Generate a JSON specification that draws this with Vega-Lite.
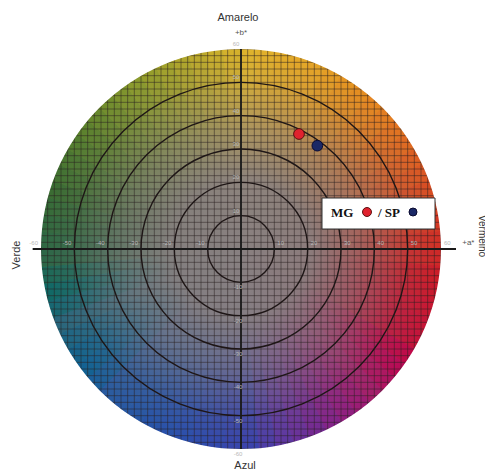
{
  "$schema": "https://vega.github.io/schema/vega-lite/v6.json",
  "width": 485,
  "height": 470,
  "padding": 0,
  "autosize": "none",
  "background": "white",
  "config": {"view": {"stroke": null}, "font": "Liberation Sans"},
  "datasets": {
    "hue": [{"h":0},{"h":5},{"h":10},{"h":15},{"h":20},{"h":25},{"h":30},{"h":35},{"h":40},{"h":45},{"h":50},{"h":55},{"h":60},{"h":65},{"h":70},{"h":75},{"h":80},{"h":85},{"h":90},{"h":95},{"h":100},{"h":105},{"h":110},{"h":115},{"h":120},{"h":125},{"h":130},{"h":135},{"h":140},{"h":145},{"h":150},{"h":155},{"h":160},{"h":165},{"h":170},{"h":175},{"h":180},{"h":185},{"h":190},{"h":195},{"h":200},{"h":205},{"h":210},{"h":215},{"h":220},{"h":225},{"h":230},{"h":235},{"h":240},{"h":245},{"h":250},{"h":255},{"h":260},{"h":265},{"h":270},{"h":275},{"h":280},{"h":285},{"h":290},{"h":295},{"h":300},{"h":305},{"h":310},{"h":315},{"h":320},{"h":325},{"h":330},{"h":335},{"h":340},{"h":345},{"h":350},{"h":355}],
    "grid": [{"g":-60},{"g":-58},{"g":-56},{"g":-54},{"g":-52},{"g":-50},{"g":-48},{"g":-46},{"g":-44},{"g":-42},{"g":-40},{"g":-38},{"g":-36},{"g":-34},{"g":-32},{"g":-30},{"g":-28},{"g":-26},{"g":-24},{"g":-22},{"g":-20},{"g":-18},{"g":-16},{"g":-14},{"g":-12},{"g":-10},{"g":-8},{"g":-6},{"g":-4},{"g":-2},{"g":0},{"g":2},{"g":4},{"g":6},{"g":8},{"g":10},{"g":12},{"g":14},{"g":16},{"g":18},{"g":20},{"g":22},{"g":24},{"g":26},{"g":28},{"g":30},{"g":32},{"g":34},{"g":36},{"g":38},{"g":40},{"g":42},{"g":44},{"g":46},{"g":48},{"g":50},{"g":52},{"g":54},{"g":56},{"g":58},{"g":60}],
    "rings": [{"r":10},{"r":20},{"r":30},{"r":40},{"r":50}],
    "one": [{"k":1}],
    "samples": [{"s":"MG","a":17.4,"b":34.5},{"s":"SP","a":22.9,"b":31.0}],
    "ticks": [{"v":-60},{"v":-50},{"v":-40},{"v":-30},{"v":-20},{"v":-10},{"v":10},{"v":20},{"v":30},{"v":40},{"v":50},{"v":60}]
  },
  "resolve": {"scale": {"color": "independent", "stroke": "independent", "fill": "independent", "size": "independent"}},
  "layer": [
    {
      "data": {"name": "hue"},
      "mark": {"type": "arc", "outerRadius": 200, "strokeWidth": 1},
      "encoding": {
        "x": {"datum": 0, "type": "quantitative", "scale": {"domain": [-72.3, 73.2], "nice": false, "zero": false}, "axis": null},
        "y": {"datum": 0, "type": "quantitative", "scale": {"domain": [-66.3, 74.7], "nice": false, "zero": false}, "axis": null},
        "theta": {"aggregate": "count", "type": "quantitative", "stack": true},
        "order": {"field": "h", "type": "quantitative"},
        "color": {"field": "h", "type": "quantitative", "legend": null,
          "scale": {"domain": [0,20,40,60,80,95,115,135,155,175,195,220,245,265,285,305,325,345,360],
                    "range": ["#e0b42c","#e6a426","#e68620","#de6022","#d43824","#cc1c28","#c4123a","#a41c6a","#742892","#3a42ac","#2a4eac","#285aa0","#28667c","#2c6646","#3a6c32","#5c822c","#8a9a2c","#bcaa2c","#e0b42c"]}},
        "stroke": {"field": "h", "type": "quantitative", "legend": null,
          "scale": {"domain": [0,20,40,60,80,95,115,135,155,175,195,220,245,265,285,305,325,345,360],
                    "range": ["#e0b42c","#e6a426","#e68620","#de6022","#d43824","#cc1c28","#c4123a","#a41c6a","#742892","#3a42ac","#2a4eac","#285aa0","#28667c","#2c6646","#3a6c32","#5c822c","#8a9a2c","#bcaa2c","#e0b42c"]}}
      }
    },
    {
      "data": {"name": "one"},
      "mark": {"type": "point", "shape": "circle", "filled": true, "size": 160000, "opacity": 1, "strokeWidth": 0,
        "fill": {"gradient": "radial", "stops": [
          {"offset": 0, "color": "rgba(136,128,128,1)"},
          {"offset": 0.35, "color": "rgba(136,128,128,0.95)"},
          {"offset": 0.6, "color": "rgba(136,128,128,0.6)"},
          {"offset": 0.85, "color": "rgba(136,128,128,0.15)"},
          {"offset": 1, "color": "rgba(136,128,128,0)"}]}},
      "encoding": {"x": {"datum": 0, "type": "quantitative"}, "y": {"datum": 0, "type": "quantitative"}}
    },
    {
      "data": {"name": "grid"},
      "mark": {"type": "rule", "stroke": "#2a2020", "strokeOpacity": 0.5, "strokeWidth": 1},
      "encoding": {"x": {"field": "g", "type": "quantitative"}, "y": {"datum": -61}, "y2": {"datum": 61}}
    },
    {
      "data": {"name": "grid"},
      "mark": {"type": "rule", "stroke": "#2a2020", "strokeOpacity": 0.5, "strokeWidth": 1},
      "encoding": {"y": {"field": "g", "type": "quantitative"}, "x": {"datum": -61}, "x2": {"datum": 61}}
    },
    {
      "data": {"name": "one"},
      "mark": {"type": "arc", "innerRadius": 200, "outerRadius": 480, "theta": 0, "theta2": 6.2832, "fill": "white", "strokeWidth": 0},
      "encoding": {"x": {"datum": 0, "type": "quantitative"}, "y": {"datum": 0, "type": "quantitative"}}
    },
    {
      "data": {"name": "rings"},
      "mark": {"type": "point", "shape": "circle", "filled": false, "opacity": 1, "stroke": "#1e1616", "strokeWidth": 1.4},
      "encoding": {
        "x": {"datum": 0, "type": "quantitative"}, "y": {"datum": 0, "type": "quantitative"},
        "size": {"field": "r", "type": "quantitative", "legend": null, "scale": {"type": "pow", "exponent": 2, "domain": [0, 60], "range": [0, 160000], "zero": true}}
      }
    },
    {
      "data": {"name": "one"},
      "mark": {"type": "rule", "stroke": "#1a1a1a", "strokeWidth": 1.8},
      "encoding": {"x": {"datum": -62.5}, "x2": {"datum": 64.5}, "y": {"datum": 0}}
    },
    {
      "data": {"name": "one"},
      "mark": {"type": "rule", "stroke": "#1a1a1a", "strokeWidth": 1.8},
      "encoding": {"x": {"datum": 0}, "y": {"datum": -60}, "y2": {"datum": 60}}
    },
    {
      "data": {"name": "ticks"},
      "transform": [{"filter": "datum.v > 0"}],
      "mark": {"type": "text", "fontSize": 6, "color": "#b8b8b8", "align": "left", "baseline": "middle", "dx": 3, "dy": -6},
      "encoding": {"x": {"field": "v", "type": "quantitative"}, "y": {"datum": 0}, "text": {"field": "v"}}
    },
    {
      "data": {"name": "ticks"},
      "transform": [{"filter": "datum.v < 0"}],
      "mark": {"type": "text", "fontSize": 6, "color": "#b8b8b8", "align": "right", "baseline": "middle", "dx": -3, "dy": -6},
      "encoding": {"x": {"field": "v", "type": "quantitative"}, "y": {"datum": 0}, "text": {"field": "v"}}
    },
    {
      "data": {"name": "ticks"},
      "transform": [{"filter": "datum.v > 0"}],
      "mark": {"type": "text", "fontSize": 6, "color": "#b8b8b8", "align": "center", "baseline": "middle", "dx": -5, "dy": -5},
      "encoding": {"y": {"field": "v", "type": "quantitative"}, "x": {"datum": 0}, "text": {"field": "v"}}
    },
    {
      "data": {"name": "ticks"},
      "transform": [{"filter": "datum.v < 0"}],
      "mark": {"type": "text", "fontSize": 6, "color": "#b8b8b8", "align": "center", "baseline": "middle", "dx": -3, "dy": 5},
      "encoding": {"y": {"field": "v", "type": "quantitative"}, "x": {"datum": 0}, "text": {"field": "v"}}
    },
    {
      "data": {"name": "one"},
      "mark": {"type": "text", "fontSize": 11, "color": "#333333", "align": "center", "baseline": "middle"},
      "encoding": {"x": {"datum": -0.9}, "y": {"datum": 69.3}, "text": {"value": "Amarelo"}}
    },
    {
      "data": {"name": "one"},
      "mark": {"type": "text", "fontSize": 8, "color": "#555555", "align": "center", "baseline": "middle"},
      "encoding": {"x": {"datum": 0}, "y": {"datum": 64.8}, "text": {"value": "+b*"}}
    },
    {
      "data": {"name": "one"},
      "mark": {"type": "text", "fontSize": 11, "color": "#333333", "align": "center", "baseline": "middle", "angle": 270},
      "encoding": {"x": {"datum": -67.2}, "y": {"datum": -1.8}, "text": {"value": "Verde"}}
    },
    {
      "data": {"name": "one"},
      "mark": {"type": "text", "fontSize": 8, "color": "#555555", "align": "center", "baseline": "middle"},
      "encoding": {"x": {"datum": 68.2}, "y": {"datum": 1.8}, "text": {"value": "+a*"}}
    },
    {
      "data": {"name": "one"},
      "mark": {"type": "text", "fontSize": 10, "color": "#333333", "align": "center", "baseline": "bottom", "angle": 90},
      "encoding": {"x": {"datum": 70.9}, "y": {"datum": 3.9}, "text": {"value": "Vermelho"}}
    },
    {
      "data": {"name": "one"},
      "mark": {"type": "text", "fontSize": 11, "color": "#333333", "align": "center", "baseline": "middle"},
      "encoding": {"x": {"datum": 1.2}, "y": {"datum": -65.1}, "text": {"value": "Azul"}}
    },
    {
      "data": {"name": "samples"},
      "mark": {"type": "point", "shape": "circle", "filled": true, "opacity": 1, "size": 115, "strokeWidth": 1},
      "encoding": {
        "x": {"field": "a", "type": "quantitative"},
        "y": {"field": "b", "type": "quantitative"},
        "fill": {"field": "s", "type": "nominal", "legend": null, "scale": {"domain": ["MG", "SP"], "range": ["#e0222e", "#1a2866"]}},
        "stroke": {"field": "s", "type": "nominal", "legend": null, "scale": {"domain": ["MG", "SP"], "range": ["#5a1010", "#0a0a30"]}}
      }
    },
    {
      "data": {"name": "one"},
      "mark": {"type": "rect", "fill": "white", "stroke": "#333333", "strokeWidth": 1},
      "encoding": {"x": {"datum": 24.3}, "x2": {"datum": 58.2}, "y": {"datum": 15.3}, "y2": {"datum": 6.0}}
    },
    {
      "data": {"name": "one"},
      "mark": {"type": "text", "fontSize": 13, "font": "Liberation Serif", "fontWeight": "bold", "color": "#111111", "align": "left", "baseline": "middle"},
      "encoding": {"x": {"datum": 27.0}, "y": {"datum": 10.8}, "text": {"value": "MG"}}
    },
    {
      "data": {"name": "one"},
      "mark": {"type": "text", "fontSize": 13, "font": "Liberation Serif", "fontWeight": "bold", "color": "#111111", "align": "left", "baseline": "middle"},
      "encoding": {"x": {"datum": 41.1}, "y": {"datum": 10.8}, "text": {"value": "/ SP"}}
    },
    {
      "data": {"name": "one"},
      "mark": {"type": "point", "shape": "circle", "filled": true, "opacity": 1, "size": 80, "fill": "#e0222e", "stroke": "#5a1010", "strokeWidth": 1},
      "encoding": {"x": {"datum": 37.8}, "y": {"datum": 11.1}}
    },
    {
      "data": {"name": "one"},
      "mark": {"type": "point", "shape": "circle", "filled": true, "opacity": 1, "size": 64, "fill": "#1a2866", "stroke": "#0a0a30", "strokeWidth": 1},
      "encoding": {"x": {"datum": 51.6}, "y": {"datum": 11.1}}
    }
  ]
}
